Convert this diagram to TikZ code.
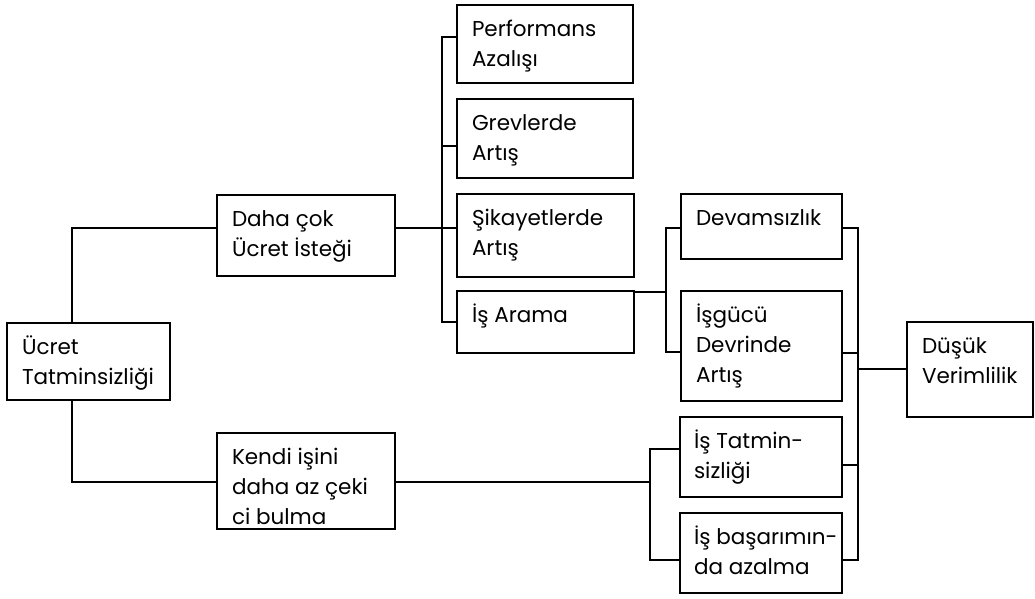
\documentclass[tikz,border=0pt]{standalone}
\usepackage{fontspec}
\setmainfont{Poppins}
\usetikzlibrary{calc}
\tikzset{
  kutu/.style={draw, line width=1.8pt, anchor=north west, inner xsep=15pt, inner ysep=0pt, outer sep=0pt},
  hat/.style={line width=1.6pt}
}
% box text: width, height, lines
\newcommand{\kutumetin}[3]{\parbox[c][#2][t]{#1}{\raggedright\rule{0pt}{31pt}#3}}
\begin{document}
\begin{tikzpicture}[x=1pt, y=-1pt, font=\fontsize{21.5}{30}\selectfont]
\useasboundingbox (0,0) rectangle (1035,598);
% boxes
\node[kutu] (ucret) at (7,323) {\kutumetin{133pt}{77pt}{Ücret\\Tatminsizliği}};
\node[kutu] (daha) at (217,195) {\kutumetin{148pt}{81pt}{Daha çok\\Ücret İsteği}};
\node[kutu] (kendi) at (217,433) {\kutumetin{148pt}{96pt}{Kendi işini\\daha az çeki\\ci bulma}};
\node[kutu] (perf) at (457,5) {\kutumetin{146pt}{78pt}{Performans\\Azalışı}};
\node[kutu] (grev) at (457,99) {\kutumetin{146pt}{79pt}{Grevlerde\\Artış}};
\node[kutu] (sikayet) at (457,194) {\kutumetin{147pt}{83pt}{Şikayetlerde\\Artış}};
\node[kutu] (isarama) at (457,291) {\kutumetin{147pt}{62pt}{İş Arama}};
\node[kutu] (devam) at (681,194) {\kutumetin{131pt}{65pt}{Devamsızlık}};
\node[kutu] (isgucu) at (681,291) {\kutumetin{131pt}{110pt}{İşgücü\\Devrinde\\Artış}};
\node[kutu, inner xsep=14pt] (tatmin) at (680,417) {\kutumetin{134pt}{80pt}{\mbox{İş Tatmin-}\\sizliği}};
\node[kutu, inner xsep=14pt] (basari) at (680,513) {\kutumetin{134pt}{80pt}{\mbox{İş başarımın-}\\da azalma}};
\node[kutu] (dusuk) at (907,322) {\kutumetin{96pt}{95pt}{Düşük\\Verimlilik}};

% connectors
\draw[hat] ($(ucret.north west)+(65,0)$) |- ($(daha.north west)+(0,33)$);
\draw[hat] ($(ucret.south west)+(65,0)$) |- ($(kendi.north west)+(0,49)$);
\draw[hat] ($(daha.north east)+(0,33)$) -- ($(sikayet.north west)+(0,34)$);
\draw[hat] ($(perf.north west)+(0,32)$) -- ++(-15,0) |- ($(isarama.north west)+(0,31)$);
\draw[hat] ($(grev.north west)+(0,47)$) -- ++(-15,0);
\draw[hat] ($(isarama.north east)+(0,1)$) -- ++(32,0);
\draw[hat] ($(devam.north west)+(0,34)$) -- ++(-15,0) |- ($(isgucu.north west)+(0,61)$);
\draw[hat] ($(kendi.north east)+(0,49)$) -- ++(255,0);
\draw[hat] ($(tatmin.north west)+(0,32)$) -- ++(-30,0) |- ($(basari.north west)+(0,47)$);
\draw[hat] ($(devam.north east)+(0,34)$) -- ++(16,0) |- ($(basari.north east)+(0,47)$);
\foreach \n/\d in {isgucu/62, tatmin/48} {
    \draw[hat] ($(\n.north east)+(0,\d)$) -- ++(16,0);
}
\draw[hat] ($(dusuk.north west)+(0,47)$) -- ++(-49,0);
\end{tikzpicture}
\end{document}
